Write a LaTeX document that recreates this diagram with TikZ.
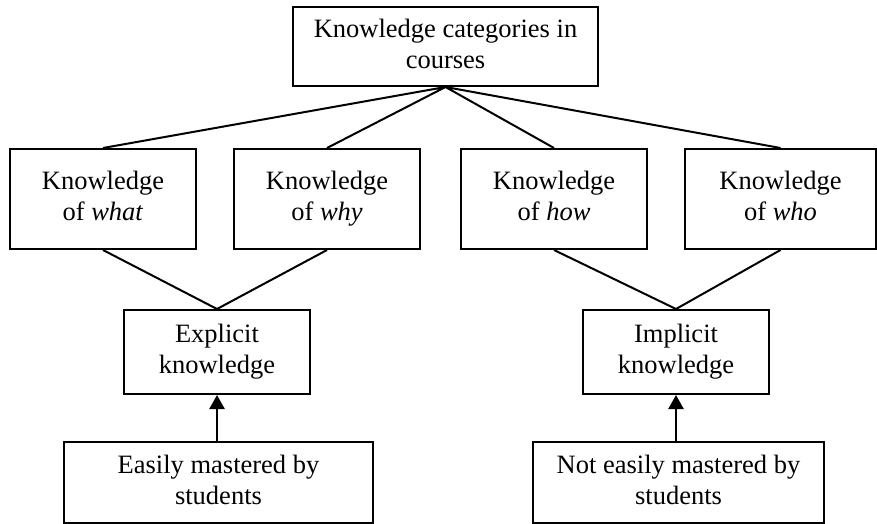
\documentclass[tikz,border=0pt]{standalone}
\usepackage{fontspec}
\setmainfont{Liberation Serif}
\usepackage{tikz}
\usetikzlibrary{positioning, arrows.meta}
\tikzset{box/.style = {rectangle,draw,line width=2pt,align=center,inner sep=0pt,font=\fontsize{26.5}{31}\selectfont}}
\tikzset{link/.style = {line width=2pt}}
\tikzset{arr/.style = {line width=2.5pt,-{Triangle[width=15pt,length=14pt]}}}

\begin{document}
\begin{tikzpicture}[x=1pt,y=-1pt]
        \useasboundingbox (0,0) rectangle (877,524);
        \begin{scope}
            \node [box, minimum width=305pt, minimum height=79pt] (K) at (445.5,46.5) {\strut Knowledge categories in\\\strut courses};

            \node [box, minimum width=186pt, minimum height=100pt] (what) at (103,199)   {\strut Knowledge\\\strut of \textit{what}};
            \node [box, minimum width=186pt, minimum height=100pt] (why)  at (327,199)   {\strut Knowledge\\\strut of \textit{why}};
            \node [box, minimum width=186pt, minimum height=100pt] (how)  at (554,199)   {\strut Knowledge\\\strut of \textit{how}};
            \node [box, minimum width=191pt, minimum height=100pt] (who)  at (780.5,199) {\strut Knowledge\\\strut of \textit{who}};

            \node [box, minimum width=186pt, minimum height=84pt] (expl) at (217,352) {\strut Explicit\\\strut knowledge};
            \node [box, minimum width=186pt, minimum height=84pt] (impl) at (676,352) {\strut Implicit\\\strut knowledge};

            \node [box, minimum width=309pt, minimum height=81pt] (easy)    at (218.5,482.5) {\strut Easily mastered by\\\strut students};
            \node [box, minimum width=291pt, minimum height=81pt] (noteasy) at (678.5,482.5) {\strut Not easily mastered by\\\strut students};

            \draw [link] (what.north) -- (K.south) -- (why.north);
            \draw [link] (how.north) -- (K.south) -- (who.north);
            \draw [link] (what.south) -- (expl.north) -- (why.south);
            \draw [link] (how.south) -- (impl.north) -- (who.south);

            \draw [arr] (easy.north -| expl) -- (expl.south);
            \draw [arr] (noteasy.north -| impl) -- (impl.south);
        \end{scope}
    \end{tikzpicture}
\end{document}
